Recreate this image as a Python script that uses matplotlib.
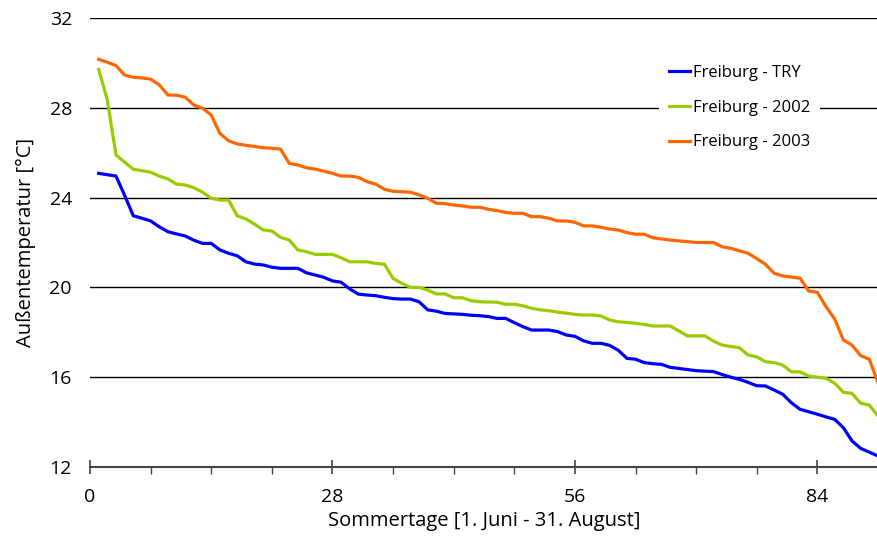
import numpy as np
import matplotlib
matplotlib.use('Agg')
import matplotlib.pyplot as plt
from matplotlib.ticker import MultipleLocator

plt.rcParams['font.family'] = ['Open Sans', 'DejaVu Sans']

#-------------------------------------------------------------------------------
# data (sorted daily mean temperatures, 1. June - 31. August)
#-------------------------------------------------------------------------------

days = np.arange(1, 92)

freiburg_try = [
    25.08, 25.02, 24.96, 24.10, 23.19, 23.08, 22.96, 22.70, 22.48, 22.38, 22.29, 22.10, 21.96, 21.96, 21.67,
    21.52, 21.41, 21.14, 21.04, 21.00, 20.90, 20.85, 20.85, 20.85, 20.65, 20.55, 20.45, 20.29, 20.23, 19.93,
    19.70, 19.66, 19.63, 19.56, 19.50, 19.48, 19.48, 19.36, 19.00, 18.94, 18.84, 18.82, 18.80, 18.76, 18.74,
    18.70, 18.62, 18.62, 18.43, 18.25, 18.10, 18.10, 18.10, 18.03, 17.88, 17.82, 17.62, 17.51, 17.51, 17.42,
    17.20, 16.84, 16.80, 16.65, 16.60, 16.57, 16.44, 16.39, 16.34, 16.29, 16.27, 16.25, 16.12, 16.00, 15.90,
    15.77, 15.62, 15.61, 15.43, 15.24, 14.86, 14.57, 14.46, 14.35, 14.23, 14.12, 13.75, 13.16, 12.83, 12.66, 12.49,
]

freiburg_2002 = [
    29.71, 28.35, 25.90, 25.58, 25.26, 25.20, 25.13, 24.96, 24.83, 24.60, 24.56, 24.44, 24.24, 23.97, 23.89,
    23.89, 23.19, 23.05, 22.82, 22.56, 22.51, 22.23, 22.11, 21.67, 21.59, 21.47, 21.47, 21.47, 21.32, 21.14,
    21.14, 21.14, 21.07, 21.03, 20.40, 20.18, 20.00, 20.00, 19.88, 19.71, 19.71, 19.54, 19.54, 19.41, 19.36,
    19.35, 19.34, 19.25, 19.25, 19.18, 19.07, 19.00, 18.96, 18.90, 18.85, 18.80, 18.77, 18.77, 18.73, 18.55,
    18.47, 18.44, 18.40, 18.35, 18.28, 18.28, 18.28, 18.06, 17.84, 17.84, 17.84, 17.61, 17.43, 17.37, 17.31,
    16.99, 16.91, 16.69, 16.65, 16.54, 16.24, 16.24, 16.05, 16.00, 15.95, 15.73, 15.33, 15.28, 14.84, 14.76, 14.27,
]

freiburg_2003 = [
    30.16, 30.03, 29.88, 29.46, 29.36, 29.33, 29.28, 29.02, 28.57, 28.56, 28.47, 28.12, 27.98, 27.68, 26.86,
    26.53, 26.39, 26.33, 26.28, 26.22, 26.20, 26.16, 25.53, 25.45, 25.33, 25.27, 25.18, 25.08, 24.96, 24.96,
    24.90, 24.71, 24.60, 24.37, 24.28, 24.26, 24.24, 24.12, 23.97, 23.75, 23.73, 23.67, 23.63, 23.57, 23.57,
    23.48, 23.42, 23.34, 23.30, 23.30, 23.15, 23.15, 23.08, 22.96, 22.96, 22.90, 22.74, 22.74, 22.68, 22.60,
    22.56, 22.44, 22.37, 22.37, 22.21, 22.16, 22.11, 22.07, 22.04, 22.00, 22.00, 22.00, 21.81, 21.74, 21.63,
    21.52, 21.28, 21.03, 20.63, 20.51, 20.46, 20.41, 19.84, 19.78, 19.14, 18.59, 17.66, 17.43, 16.96, 16.80, 15.75,
]

labels = ['Freiburg - TRY', 'Freiburg - 2002', 'Freiburg - 2003']
colors = ['#0000ff', '#99cc00', '#ff6600']

#-------------------------------------------------------------------------------
# plot
#-------------------------------------------------------------------------------

fig = plt.figure(figsize=(8.78, 5.43), dpi=100)
ax = fig.add_axes([90 / 878, 76 / 543, 788 / 878, 449 / 543])

for series, label, color in zip([freiburg_try, freiburg_2002, freiburg_2003], labels, colors):
    ax.plot(days, series, color=color, linewidth=2.3, label=label, solid_joinstyle='miter', zorder=3)

ax.set_xlim(0, 91)
ax.set_ylim(12, 32)

# horizontal grid lines instead of a frame
for spine in ['left', 'right', 'top']:
    ax.spines[spine].set_visible(False)
ax.spines['bottom'].set_color('#444444')
ax.spines['bottom'].set_linewidth(1.5)
for yv in [16, 20, 24, 28, 32]:
    ax.axhline(yv, color='black', linewidth=1.0, zorder=1)

ax.xaxis.set_major_locator(MultipleLocator(28))
ax.xaxis.set_minor_locator(MultipleLocator(7))
ax.yaxis.set_major_locator(MultipleLocator(4))
ax.tick_params(axis='x', which='major', direction='inout', length=10, width=1.2,
               color='#444444', labelsize=14, pad=10)
ax.tick_params(axis='x', which='minor', direction='out', length=5, width=1.0, color='#444444')
ax.tick_params(axis='y', which='both', length=0, labelsize=14, pad=13)

ax.set_xlabel('Sommertage [1. Juni - 31. August]', fontsize=14.5, labelpad=4)
ax.set_ylabel('Außentemperatur [°C]', fontsize=14.5, labelpad=10)

leg = ax.legend(loc='upper left', bbox_to_anchor=(0.722, 0.918), frameon=True, fontsize=12,
                handlelength=1.25, handletextpad=0.2, labelspacing=1.13, borderpad=0.6,
                borderaxespad=0, fancybox=False)
leg.get_frame().set_facecolor('white')
leg.get_frame().set_edgecolor('none')
leg.get_frame().set_alpha(1.0)
leg.set_zorder(5)

fig.savefig('out.png', dpi=100)
